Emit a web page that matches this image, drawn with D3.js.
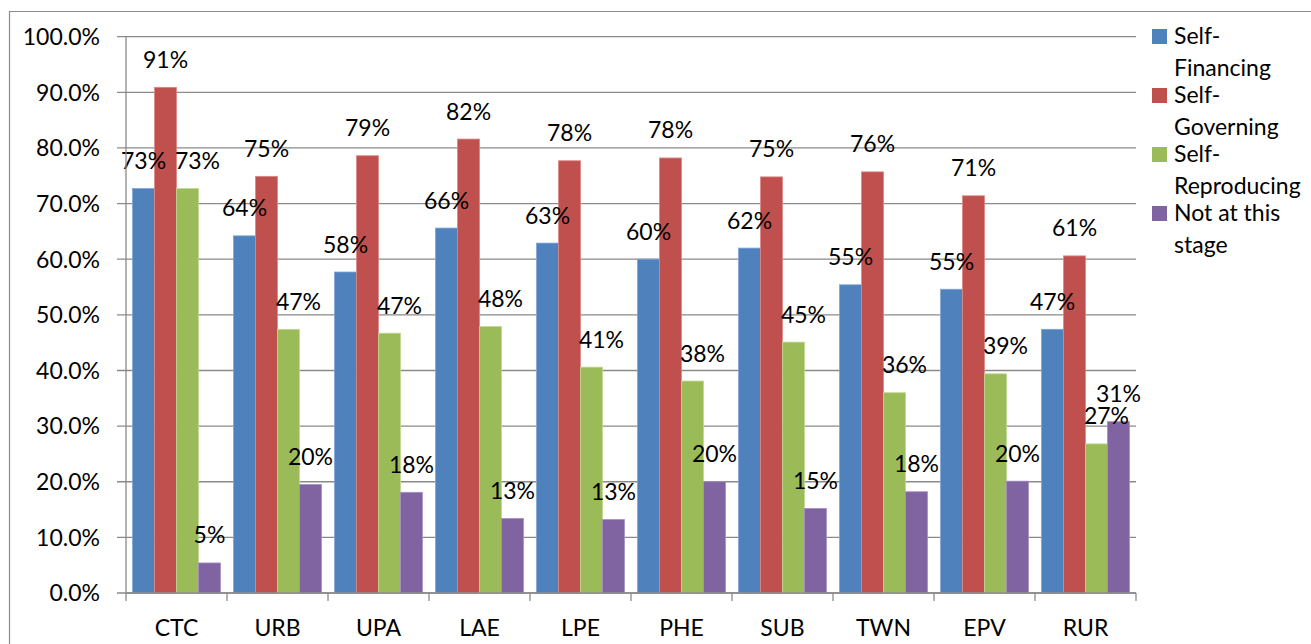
<!DOCTYPE html>
<html lang="en">

<head>
  <meta charset="UTF-8">
  <title>Clustered column chart - stages by category</title>
  <script src="https://d3js.org/d3.v7.min.js"></script>
  <style>
    body { margin: 0; background: #fff; }
    svg text { font-family: Lato, "Noto Sans", sans-serif; fill: #000; }
  </style>
</head>

<body>
  <div id="chart"></div>

  <script>
    // categories along the x axis
    const categories = ["CTC", "URB", "UPA", "LAE", "LPE", "PHE", "SUB", "TWN", "EPV", "RUR"];

    // series names (legend) and values in %
    const seriesNames = ["Self-Financing", "Self-Governing", "Self-Reproducing", "Not at this stage"];
    const selfFinancing = [72.7, 64.2, 57.7, 65.6, 62.9, 60.0, 62.0, 55.4, 54.6, 47.4];
    const selfGoverning = [90.9, 74.9, 78.6, 81.6, 77.7, 78.2, 74.8, 75.7, 71.4, 60.6];
    const selfReproducing = [72.7, 47.4, 46.7, 47.9, 40.6, 38.1, 45.1, 36.0, 39.4, 26.8];
    const notAtThisStage = [5.4, 19.5, 18.1, 13.4, 13.2, 20.0, 15.2, 18.2, 20.1, 30.8];

    // legend labels broken the way the original wraps them
    const legendLines = [["Self-", "Financing"], ["Self-", "Governing"], ["Self-", "Reproducing"], ["Not at this", "stage"]];

    // y axis ticks
    const yTicks = [0, 10, 20, 30, 40, 50, 60, 70, 80, 90, 100];

    const colors = ["#4F81BD", "#C0504D", "#9BBB59", "#8064A2"];
    const edgeColors = ["#7FA3D3", "#D98886", "#BFD792", "#A58FC2"];

    const allSeries = [selfFinancing, selfGoverning, selfReproducing, notAtThisStage];
    const rows = categories.map((c, i) => ({ cat: c, values: allSeries.map(s => s[i]) }));

    const W = 1311, H = 644;
    const plot = { left: 126, right: 1136, top: 36.7, bottom: 593 };
    const fontSize = "23px";

    const svg = d3.select("#chart").append("svg")
      .attr("width", W)
      .attr("height", H);

    // outer chart border (only left and top are inside the picture)
    svg.append("path")
      .attr("d", `M9.5,${H} L9.5,11.5 L${W},11.5`)
      .attr("fill", "none")
      .attr("stroke", "#8c8c8c")
      .attr("stroke-width", 1.2);

    const x0 = d3.scaleBand()
      .domain(categories)
      .range([plot.left, plot.right])
      .padding(0);

    const step = x0.bandwidth();
    const x1 = d3.scaleBand()
      .domain(d3.range(seriesNames.length))
      .range([step * 0.065, step * 0.935])
      .padding(0);

    const y = d3.scaleLinear()
      .domain([0, 100])
      .range([plot.bottom, plot.top]);

    // gridlines (they run a little left of the axis, acting as tick marks)
    svg.append("g")
      .selectAll("line")
      .data(yTicks)
      .join("line")
      .attr("x1", plot.left - 9)
      .attr("x2", plot.right)
      .attr("y1", d => y(d))
      .attr("y2", d => y(d))
      .attr("stroke", "#8a8a8a")
      .attr("stroke-width", 1.3);

    // y tick labels
    svg.append("g")
      .selectAll("text")
      .data(yTicks)
      .join("text")
      .attr("x", 100)
      .attr("y", d => y(d))
      .attr("dy", "0.36em")
      .attr("text-anchor", "end")
      .style("font-size", fontSize)
      .text(d => d3.format(".1f")(d) + "%");

    // bars
    const groups = svg.append("g")
      .selectAll("g")
      .data(rows)
      .join("g")
      .attr("transform", d => `translate(${x0(d.cat)},0)`);

    groups.selectAll("rect")
      .data(d => d.values.map((v, k) => ({ k, v })))
      .join("rect")
      .attr("x", d => x1(d.k))
      .attr("y", d => y(d.v))
      .attr("width", x1.bandwidth())
      .attr("height", d => y(0) - y(d.v))
      .attr("fill", d => colors[d.k])
      .attr("stroke", d => edgeColors[d.k])
      .attr("stroke-width", 0.8);

    // data labels (green series sits a bit to the right in the original)
    const labelNudge = [0, 0, 10, 0];
    groups.selectAll("text")
      .data(d => d.values.map((v, k) => ({ k, v })))
      .join("text")
      .attr("x", d => x1(d.k) + x1.bandwidth() / 2 + labelNudge[d.k])
      .attr("y", d => y(d.v) - 19.5)
      .attr("text-anchor", "middle")
      .style("font-size", fontSize)
      .text(d => Math.round(d.v) + "%");

    // axes lines
    svg.append("line")
      .attr("x1", plot.left).attr("x2", plot.left)
      .attr("y1", plot.top).attr("y2", plot.bottom)
      .attr("stroke", "#8a8a8a").attr("stroke-width", 1.3);

    svg.append("line")
      .attr("x1", plot.left).attr("x2", plot.right)
      .attr("y1", plot.bottom).attr("y2", plot.bottom)
      .attr("stroke", "#8a8a8a").attr("stroke-width", 1.3);

    // x tick marks at category boundaries
    const boundaries = categories.map(c => x0(c)).concat([plot.right]);
    svg.append("g")
      .selectAll("line")
      .data(boundaries)
      .join("line")
      .attr("x1", d => d).attr("x2", d => d)
      .attr("y1", plot.bottom).attr("y2", plot.bottom + 8)
      .attr("stroke", "#8a8a8a").attr("stroke-width", 1.3);

    // category labels
    svg.append("g")
      .selectAll("text")
      .data(categories)
      .join("text")
      .attr("x", d => x0(d) + step / 2)
      .attr("y", 636)
      .attr("text-anchor", "middle")
      .style("font-size", fontSize)
      .text(d => d);

    // legend
    const legend = svg.append("g")
      .selectAll("g")
      .data(seriesNames)
      .join("g")
      .attr("transform", (d, i) => `translate(1152,${29 + i * 59})`);

    legend.append("rect")
      .attr("width", 15)
      .attr("height", 15)
      .attr("fill", (d, i) => colors[i]);

    legend.append("text")
      .attr("x", 22)
      .attr("y", 15)
      .style("font-size", fontSize)
      .selectAll("tspan")
      .data((d, i) => legendLines[i])
      .join("tspan")
      .attr("x", 22)
      .attr("dy", (d, j) => j === 0 ? 0 : 32)
      .text(d => d);
  </script>
</body>

</html>
